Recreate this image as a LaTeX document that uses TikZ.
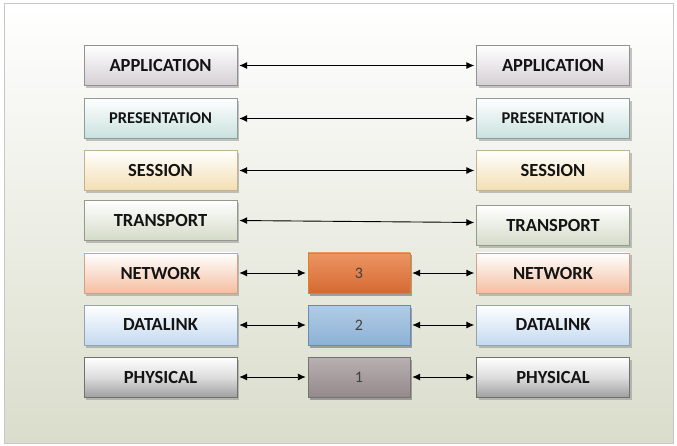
\documentclass[tikz,border=0pt]{standalone}
\usepackage{fontspec}
\setmainfont{Carlito}
\usetikzlibrary{shadows,arrows.meta}

% layer colours
\definecolor{appc}{RGB}{212,207,212}
\definecolor{prec}{RGB}{200,225,222}
\definecolor{sesc}{RGB}{243,222,178}
\definecolor{trac}{RGB}{212,219,200}
\definecolor{netc}{RGB}{245,190,160}
\definecolor{datc}{RGB}{196,218,240}
\definecolor{phyc}{RGB}{160,160,160}
\definecolor{panel}{RGB}{218,221,203}

\tikzstyle{layer} = [rectangle, minimum width=153pt, minimum height=40pt, inner sep=0pt,
  top color=white, text=black!92, font=\bfseries\fontsize{18.5}{18.5}\selectfont,
  drop shadow={shadow xshift=2pt, shadow yshift=-2.5pt, opacity=.45}]
\tikzstyle{hop} = [rectangle, minimum width=102pt, minimum height=40pt, inner sep=0pt,
  text=black!75, font=\fontsize{16}{16}\selectfont,
  drop shadow={shadow xshift=1.5pt, shadow yshift=-2.5pt, opacity=.7}]
\tikzstyle{link} = [{Latex[length=8pt,width=7pt]}-{Latex[length=8pt,width=7pt]}, line width=.9pt, shorten <=2pt, shorten >=2pt]

\tikzstyle{app} = [layer, draw=appc!70!black, bottom color=appc]
\tikzstyle{pre} = [layer, draw=prec!70!black, bottom color=prec, font=\bfseries\fontsize{16.5}{16.5}\selectfont]
\tikzstyle{ses} = [layer, draw=sesc!80!black, bottom color=sesc]
\tikzstyle{tra} = [layer, draw=trac!70!black, bottom color=trac]
\tikzstyle{net} = [layer, draw=netc!85!black, bottom color=netc]
\tikzstyle{dat} = [layer, draw=datc!75!black, bottom color=datc]
\tikzstyle{phy} = [layer, draw=phyc!70!black, bottom color=phyc, middle color=phyc!35]

\begin{document}
\begin{tikzpicture}[x=1pt, y=-1pt]
  \useasboundingbox (0,0) rectangle (677,446);
  % background panel
  \shade[top color=white, middle color=panel!45, bottom color=panel] (4,4) rectangle (673,443);
  \draw[black!22, line width=1pt] (4,4) rectangle (673,443);

  % end hosts
  \node[app] (appL) at (160.5,65.5) {APPLICATION};
  \node[app] (appR) at (553,65.5)   {APPLICATION};
  \node[pre] (preL) at (160.5,118.5) {PRESENTATION};
  \node[pre] (preR) at (553,118.5)   {PRESENTATION};
  \node[ses] (sesL) at (160.5,170.5) {SESSION};
  \node[ses] (sesR) at (553,170.5)   {SESSION};
  \node[tra] (traL) at (160.5,220.5) {TRANSPORT};
  \node[tra] (traR) at (553,225.5)   {TRANSPORT};
  \node[net] (netL) at (160.5,273)   {NETWORK};
  \node[net] (netR) at (553,273)     {NETWORK};
  \node[dat] (datL) at (160.5,325)   {DATALINK};
  \node[dat] (datR) at (553,325)     {DATALINK};
  \node[phy] (phyL) at (160.5,377)   {PHYSICAL};
  \node[phy] (phyR) at (553,377)     {PHYSICAL};

  % intermediate node
  \node[hop, draw=orange!60!brown, top color={rgb,255:red,236;green,150;blue,100}, bottom color={rgb,255:red,214;green,105;blue,50}] (h3) at (359,273) {3};
  \node[hop, draw={rgb,255:red,100;green,140;blue,185}, top color={rgb,255:red,178;green,204;blue,228}, bottom color={rgb,255:red,140;green,178;blue,214}] (h2) at (359,325) {2};
  \node[hop, draw=black!55, top color={rgb,255:red,185;green,176;blue,178}, bottom color={rgb,255:red,148;green,138;blue,140}] (h1) at (359,377) {1};

  % peer links
  \foreach \n in {app,pre,ses}
    \draw[link] (\n L) -- (\n R);
  \draw[link] (traL.east) -- ([yshift=3pt]traR.west);
  \foreach \n/\h in {net/h3,dat/h2,phy/h1} {
    \draw[link] (\n L) -- (\h);
    \draw[link] (\h) -- (\n R);
  }
\end{tikzpicture}
\end{document}
